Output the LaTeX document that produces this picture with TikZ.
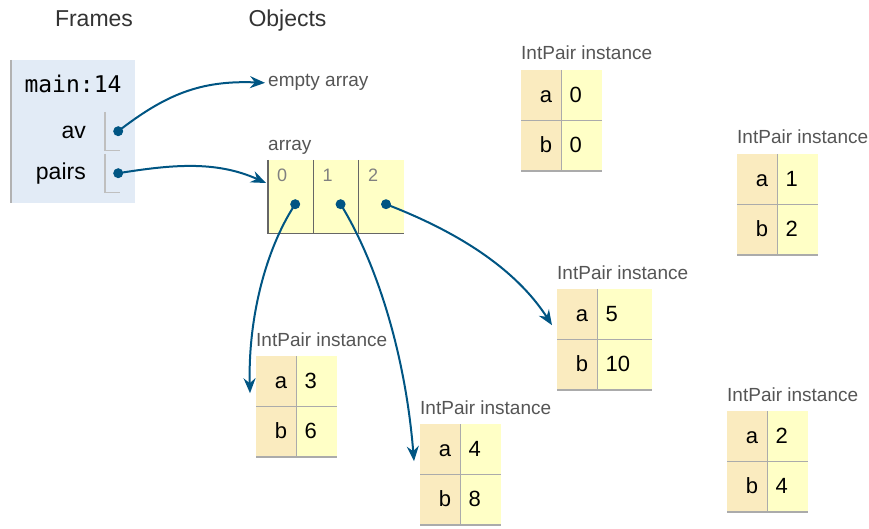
\documentclass[tikz,border=0pt]{standalone}
\usepackage{fontspec}
\setmainfont{Liberation Sans}
\newfontfamily\codefont{DejaVu Sans Mono}
\usetikzlibrary{positioning,arrows.meta}
\definecolor{framebg}{HTML}{E2EBF6}
\definecolor{keybg}{HTML}{FAEBBF}
\definecolor{valbg}{HTML}{FFFFC6}
\definecolor{ptrblue}{HTML}{005583}
\definecolor{labelgray}{HTML}{555555}
\tikzset{heading/.style={font=\fontsize{23}{27}\selectfont,text=black!80,inner sep=0pt,anchor=base},
  objlabel/.style={font=\fontsize{19}{22}\selectfont,text=labelgray,inner sep=0pt,anchor=base west},
  idxlabel/.style={font=\fontsize{18}{21}\selectfont,text=black!50,inner sep=0pt,anchor=base west},
  varname/.style={font=\fontsize{23}{27}\selectfont,inner sep=0pt,anchor=base east},
  keycell/.style={fill=keybg,minimum height=50pt,text height=14pt,text depth=0pt,inner xsep=9pt,inner ysep=0pt,text width=22pt,align=right,font=\fontsize{22}{26}\selectfont},
  valcell/.style={fill=valbg,minimum height=50pt,text height=14pt,text depth=0pt,inner xsep=8pt,inner ysep=0pt,text width=24pt,align=left,font=\fontsize{22}{26}\selectfont},
  cellline/.style={draw=black!33,line width=1.5pt},
  arrcell/.style={fill=valbg,minimum width=45pt,minimum height=73pt,inner sep=0pt},
  arrline/.style={draw=black!60,line width=1.3pt},
  varcell/.style={minimum width=26pt,minimum height=38pt,inner sep=0pt},
  ptrdot/.style={circle,fill=ptrblue,minimum size=10pt,inner sep=0pt},
  ptr/.style={draw=ptrblue,line width=2pt,-{Stealth[length=15pt,width=12pt,inset=5pt]}},}

\begin{document}
\begin{tikzpicture}[x=1pt,y=-1pt]
    \useasboundingbox (0,0) rectangle (869,529);
    \node[heading] (frames) at (94,27) {Frames};
    \node[heading] (objects) at (287.5,27) {Objects};

    % frame
    \node[fill=framebg,minimum width=125pt,minimum height=143pt,inner sep=0pt,anchor=north west] (frame) at (10,60) {};
    \path[draw=black!30,line width=2pt] ([xshift=1pt]frame.north west) -- ([xshift=1pt]frame.south west);
    \node[font=\codefont\fontsize{23}{27}\selectfont,inner sep=0pt,anchor=base] (fname) at (73,93) {main:14};
    \node[varname] (avname) at (86,139) {av};
    \node[varname] (pairsname) at (86,180) {pairs};
    \node[varcell,anchor=north west] (avcell) at (105,112) {};
    \node[varcell,anchor=north west] (pairscell) at (105,154) {};
    \path[draw=black!25,line width=1.5pt]
    (avcell.north west) -- (avcell.south west) -- ++(15,0)
    (pairscell.north west) -- (pairscell.south west) -- ++(15,0)
    ;
    \node[ptrdot] (avdot) at (avcell.center) {};
    \node[ptrdot] (pairsdot) at (pairscell.center) {};

    % objects
    \node[objlabel] (empty) at (268,87) {empty array};
    \node[objlabel] (arrlbl) at (268,151) {array};
    \node[arrcell,anchor=north west] (c0) at (268,160) {};
    \node[arrcell,right=0pt of c0] (c1) {};
    \node[arrcell,right=0pt of c1] (c2) {};
    \path[arrline]
    (c0.north west) -- (c0.south west) -- (c2.south east)
    (c1.north west) -- (c1.south west)
    (c2.north west) -- (c2.south west)
    ;
    \foreach \i in {0,1,2} {
      \node[idxlabel] (idx\i) at ([xshift=9pt,yshift=-22pt]c\i.north west) {\i};
      \node[ptrdot] (d\i) at ([xshift=4.5pt,yshift=-7.5pt]c\i.center) {};
    }

    % IntPair (0,0)
    \node[objlabel] (p1lbl) at (521,60) {IntPair instance};
    \node[keycell,anchor=north west] (p1a) at (521,70) {a};
    \node[valcell,right=0pt of p1a] (p1av) {0};
    \node[keycell,below=0pt of p1a] (p1b) {b};
    \node[valcell,right=0pt of p1b] (p1bv) {0};

    % IntPair (1,2)
    \node[objlabel] (p2lbl) at (737,144) {IntPair instance};
    \node[keycell,anchor=north west] (p2a) at (737,154) {a};
    \node[valcell,right=0pt of p2a] (p2av) {1};
    \node[keycell,below=0pt of p2a] (p2b) {b};
    \node[valcell,right=0pt of p2b] (p2bv) {2};

    % IntPair (5,10)
    \node[objlabel] (p3lbl) at (557,279) {IntPair instance};
    \node[keycell,anchor=north west] (p3a) at (557,289) {a};
    \node[valcell,text width=38pt,right=0pt of p3a] (p3av) {5};
    \node[keycell,below=0pt of p3a] (p3b) {b};
    \node[valcell,text width=38pt,right=0pt of p3b] (p3bv) {10};

    % IntPair (3,6)
    \node[objlabel] (p4lbl) at (256,346) {IntPair instance};
    \node[keycell,anchor=north west] (p4a) at (256,356) {a};
    \node[valcell,right=0pt of p4a] (p4av) {3};
    \node[keycell,below=0pt of p4a] (p4b) {b};
    \node[valcell,right=0pt of p4b] (p4bv) {6};

    % IntPair (4,8)
    \node[objlabel] (p5lbl) at (420,414) {IntPair instance};
    \node[keycell,anchor=north west] (p5a) at (420,424) {a};
    \node[valcell,right=0pt of p5a] (p5av) {4};
    \node[keycell,below=0pt of p5a] (p5b) {b};
    \node[valcell,right=0pt of p5b] (p5bv) {8};

    % IntPair (2,4)
    \node[objlabel] (p6lbl) at (727,401) {IntPair instance};
    \node[keycell,anchor=north west] (p6a) at (727,411) {a};
    \node[valcell,right=0pt of p6a] (p6av) {2};
    \node[keycell,below=0pt of p6a] (p6b) {b};
    \node[valcell,right=0pt of p6b] (p6bv) {4};

    \foreach \p in {p1,p2,p3,p4,p5,p6} {
      \path[cellline]
      (\p a.north east) -- (\p b.south east)
      (\p a.south west) -- (\p av.south east)
      (\p b.south west) -- (\p bv.south east)
      ;
    }

    % pointers
    \draw[ptr] (avdot.center) .. controls (165,95) and (200,80) .. ([xshift=-3pt]empty.west);
    \draw[ptr] (pairsdot.center) .. controls (170,165) and (215,160) .. ([xshift=-2pt,yshift=-23pt]c0.north west);
    \draw[ptr] (d0.center) .. controls (265,250) and (248,320) .. ([xshift=-6pt,yshift=-12pt]p4a.west);
    \draw[ptr] (d1.center) .. controls (375,260) and (405,350) .. ([xshift=-6pt,yshift=-12pt]p5a.west);
    \draw[ptr] (d2.center) .. controls (440,225) and (510,260) .. ([xshift=-5pt,yshift=-11pt]p3a.west);
\end{tikzpicture}
\end{document}
